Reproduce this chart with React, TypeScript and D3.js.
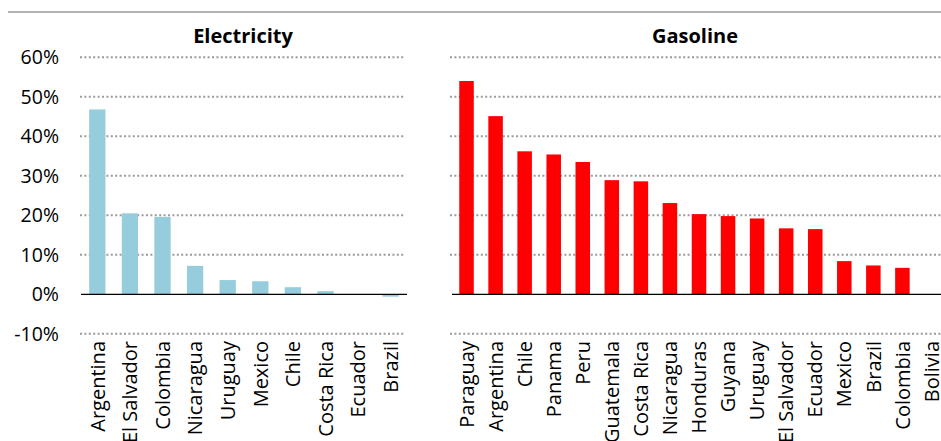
import React from "react";
import * as d3 from "d3";

const elecCountries = ["Argentina", "El Salvador", "Colombia", "Nicaragua", "Uruguay", "Mexico", "Chile", "Costa Rica", "Ecuador", "Brazil"];
const elecValues = [46.8, 20.5, 19.6, 7.2, 3.6, 3.3, 1.8, 0.8, 0, -0.6];

const gasCountries = ["Paraguay", "Argentina", "Chile", "Panama", "Peru", "Guatemala", "Costa Rica", "Nicaragua", "Honduras", "Guyana", "Uruguay", "El Salvador", "Ecuador", "Mexico", "Brazil", "Colombia", "Bolivia"];
const gasValues: (number | null)[] = [54.0, 45.1, 36.2, 35.4, 33.5, 28.9, 28.6, 23.1, 20.3, 19.8, 19.2, 16.7, 16.5, 8.4, 7.3, 6.7, null];

const yTicks = [-10, 0, 10, 20, 30, 40, 50, 60];
const titles = ["Electricity", "Gasoline"];

const W = 941;
const H = 441;
const FONT = "'Open Sans', sans-serif";

const y = d3.scaleLinear().domain([-10, 60]).range([333.8, 57.3]);

function Panel({ cats, vals, x0, x1, gx0, gx1, color, title, titleX }: any) {
  const x = d3.scaleBand<string>().domain(cats).range([x0, x1]).paddingInner(0.5).paddingOuter(0.25);
  return (
    <g>
      <text x={titleX} y={43} textAnchor="middle" fontFamily={FONT} fontWeight="bold" fontSize={20} fill="#000">{title}</text>
      {yTicks.filter((t) => t !== 0).map((t) => (
        <line key={t} x1={gx0} x2={gx1} y1={y(t)} y2={y(t)} stroke="#9a9a9a" strokeWidth={2} strokeDasharray="2 2.4" />
      ))}
      {cats.map((c: string, i: number) => {
        const v = vals[i];
        if (v === null || v === 0) return null;
        const top = Math.min(y(v), y(0));
        const h = Math.abs(y(v) - y(0));
        return <rect key={c} x={x(c)} y={top} width={x.bandwidth()} height={h} fill={color} />;
      })}
      <line x1={x0} x2={Math.min(x1, W)} y1={y(0)} y2={y(0)} stroke="#000" strokeWidth={1.2} />
      {cats.map((c: string) => {
        const cx = (x(c) as number) + x.bandwidth() / 2;
        return (
          <text key={c} transform={`translate(${cx},${341}) rotate(-90)`} textAnchor="end" dy="0.36em" fontFamily={FONT} fontSize={20} fill="#000">{c}</text>
        );
      })}
    </g>
  );
}

export default function App() {
  return (
    <svg width={W} height={H} style={{ position: "absolute", left: 0, top: 0, background: "#fff" }}>
      <line x1={8} x2={W} y1={12} y2={12} stroke="#999" strokeWidth={1.7} />
      {yTicks.map((t) => (
        <text key={t} x={59} y={y(t)} dy="0.36em" textAnchor="end" fontFamily={FONT} fontSize={19.5} fill="#000">{`${t}%`}</text>
      ))}
      <Panel cats={elecCountries} vals={elecValues} x0={81} x1={407} gx0={80} gx1={405} color="#96CDDC" title={titles[0]} titleX={243} />
      <Panel cats={gasCountries} vals={gasValues} x0={452} x1={946} gx0={450} gx1={W} color="#FF0000" title={titles[1]} titleX={695} />
    </svg>
  );
}
